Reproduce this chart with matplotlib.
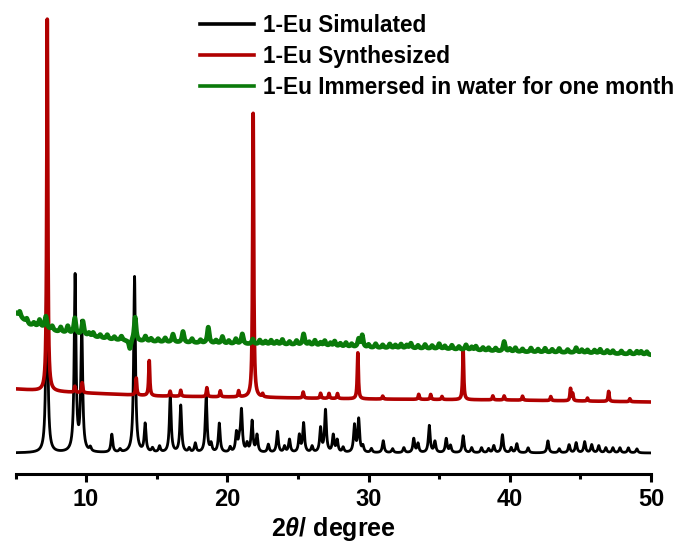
import matplotlib.pyplot as plt
import numpy as np

plt.rcParams["font.family"] = ["Liberation Sans", "DejaVu Sans"]
plt.rcParams["font.weight"] = "bold"
plt.rcParams["axes.labelweight"] = "bold"
plt.rcParams["mathtext.fontset"] = "custom"
plt.rcParams["mathtext.it"] = "Liberation Sans:italic:bold"
plt.rcParams["mathtext.rm"] = "Liberation Sans:bold"

# peak tables: (2theta, height above background)
sim_pos = [7.22, 9.22, 9.69, 10.3, 11.82, 12.4, 13.43, 14.18, 14.7, 15.2,
           15.96, 16.7, 17.3, 17.73, 18.5, 18.85, 19.43, 20.2, 20.64, 20.85,
           21.0, 21.4, 21.75, 22.1, 22.9, 23.55, 24.05, 24.4, 25.1, 25.4,
           26.0, 26.6, 26.95, 27.5, 27.78, 28.2, 29.0, 29.3, 29.6, 30.2,
           31.04, 31.7, 32.5, 33.2, 33.5, 34.3, 34.7, 35.5, 35.8, 36.7,
           37.3, 38.0, 38.5, 38.87, 39.48, 40.1, 40.5, 41.3, 42.7, 43.5,
           44.2, 44.7, 45.3, 45.8, 46.3, 46.8, 47.3, 47.8, 48.4, 49.0]
sim_height = [200, 176, 128, 4, 18, 3, 176, 28, 4, 6,
              57, 47, 4, 9, 57, 8, 29, 5, 19, 10,
              41, 8, 31, 17, 8, 21, 6, 13, 17, 29,
              6, 24, 42, 17, 12, 5, 27, 33, 6, 4,
              12, 4, 5, 14, 9, 27, 11, 14, 7, 17,
              5, 5, 4, 7, 18, 5, 9, 5, 12, 4,
              8, 10, 11, 8, 7, 5, 5, 5, 5, 4]
sim_bg_x = [5, 50]
sim_bg_y = [21, 21]

syn_pos = [7.25, 9.2, 9.72, 13.55, 14.47, 15.95, 16.7, 18.55, 19.5,
           20.8, 21.83, 22.5, 25.37, 26.6, 27.2, 27.8, 29.24, 31.0,
           33.55, 34.4, 35.2, 36.7, 38.8, 39.6, 40.9, 42.9, 44.3, 44.45,
           45.5, 47.0, 48.5]
syn_height = [372, 6, 10, 17, 35, 5, 6, 9, 6,
              6, 284, 3, 6, 5, 5, 5, 46, 3,
              5, 5, 3, 49, 4, 4, 4, 4, 12, 7,
              3, 10, 3]
syn_bg_x = [5, 7, 10, 15, 20, 30, 40, 50]
syn_bg_y = [85, 83, 81, 78, 77, 75, 74, 72]

imm_pos = [5.3, 5.8, 6.3, 6.7, 7.15, 7.6, 8.2, 8.7, 9.2, 9.77,
           10.2, 10.5, 11.0, 11.5, 12.0, 12.5, 13.1, 13.47, 14.2, 14.6,
           15.1, 15.6, 16.15, 16.86, 17.5, 18.1, 18.65, 19.2, 19.65, 20.1,
           20.6, 21.06, 21.8, 22.3, 22.7, 23.1, 23.5, 23.9, 24.4, 24.9,
           25.4, 25.8, 26.2, 26.6, 26.9, 27.3, 27.6, 28.0, 28.4, 28.8,
           29.3, 29.55, 30.0, 30.5, 31.0, 31.5, 31.9, 32.3, 32.7, 33.0,
           33.5, 34.0, 34.5, 35.0, 35.4, 35.9, 36.4, 36.9, 37.3, 37.6,
           38.1, 38.5, 39.0, 39.6, 40.0, 40.4, 40.9, 41.5, 42.0, 42.5,
           43.0, 43.5, 44.1, 44.7, 45.1, 45.5, 46.0, 46.4, 46.9, 47.3,
           47.9, 48.5, 49.0, 49.3, 49.7]
imm_height = [5, 4, 3, 7, 12, 4, 5, 7, 16, 14,
              3, 4, 3, 4, 3, 4, -9, 24, 5, 3,
              3, 4, 8, 11, 4, 3, 16, 3, 7, 3,
              5, 10, 5, 4, 3, 4, 3, 5, 3, 4,
              11, 3, 5, 3, 5, 3, 5, 3, 4, 3,
              8, 12, 3, 4, 3, 4, 3, 4, 3, 5,
              3, 4, 3, 5, 3, 4, 3, 5, 3, 4,
              3, 3, 3, 10, 3, 4, 3, 4, 3, 4,
              3, 4, 3, 5, 3, 3, 3, 4, 3, 3,
              3, 3, 3, 3, 3]
imm_bg_x = [5, 5.5, 6, 7, 8, 10, 12, 15, 20, 25, 30, 35, 40, 45, 50]
imm_bg_y = [161, 155, 149, 146, 142, 138, 134, 132, 130, 129, 126, 125, 122, 121, 119]

labels = ["1-Eu Simulated", "1-Eu Synthesized",
          "1-Eu Immersed in water for one month"]
colors = ["#000000", "#b00000", "#0a7a0a"]


def pattern(tt, pos, height, bg_x, bg_y, fwhm):
    y = np.interp(tt, bg_x, bg_y)
    hw = fwhm / 2
    for p, h in zip(pos, height):
        y = y + h / (1 + ((tt - p) / hw) ** 2)
    return y


tt = np.arange(5, 50.001, 0.005)
curves = [
    pattern(tt, sim_pos, sim_height, sim_bg_x, sim_bg_y, 0.15),
    pattern(tt, syn_pos, syn_height, syn_bg_x, syn_bg_y, 0.09),
    pattern(tt, imm_pos, imm_height, imm_bg_x, imm_bg_y, 0.16),
]
widths = [2.0, 2.6, 3.4]

fig = plt.figure(figsize=(6.81, 5.45), dpi=100)
ax = fig.add_axes([15.5 / 681, 1 - 474 / 545, (651 - 15.5) / 681, 474 / 545])

for y, c, lab, lw in zip(curves, colors, labels, widths):
    ax.plot(tt, y, color=c, lw=lw, label=lab)

ax.set_xlim(5, 50)
ax.set_ylim(0, 474)
for s in ["left", "top", "right"]:
    ax.spines[s].set_visible(False)
ax.spines["bottom"].set_linewidth(2.2)
ax.set_yticks([])
ax.set_xticks([10, 20, 30, 40, 50])
ax.set_xticks(np.arange(5, 50, 10), minor=True)
ax.tick_params(axis="x", which="major", length=6, width=2.2, labelsize=17, pad=4)
ax.tick_params(axis="x", which="minor", length=3.5, width=2.2)
ax.set_xlabel(r"2$\theta$/ degree", fontsize=18, fontweight="bold", labelpad=3)

leg = ax.legend(loc="upper left", bbox_to_anchor=(200 / 681, 1 - 14 / 545),
                bbox_transform=fig.transFigure, frameon=False, fontsize=16.3,
                borderpad=0, borderaxespad=0, handlelength=2.4,
                handletextpad=0.4, labelspacing=0.36)
for line in leg.get_lines():
    line.set_linewidth(2.6)

fig.savefig("out.png", dpi=100)
